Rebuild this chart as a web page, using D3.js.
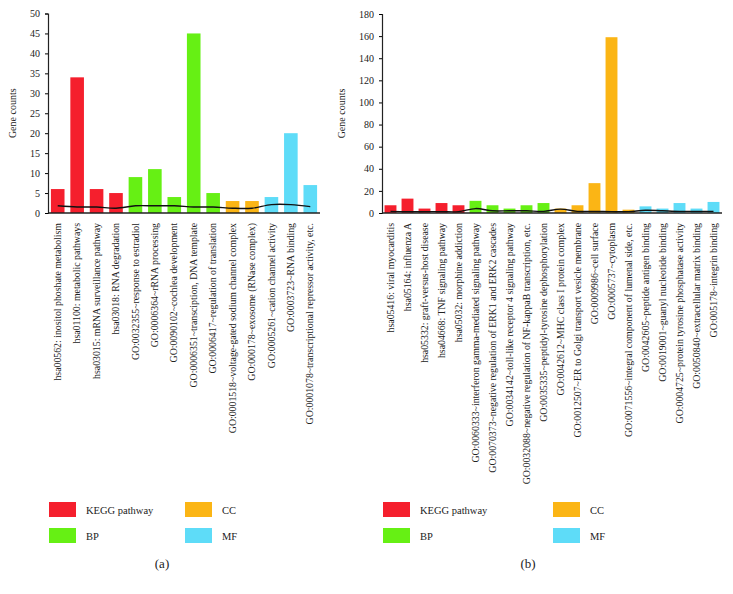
<!DOCTYPE html>
<html><head><meta charset="utf-8">
<script src="https://cdn.jsdelivr.net/npm/d3@7"></script>
<style>body{margin:0;background:#fff}svg{display:block}text{font-family:"Liberation Serif","Times New Roman",serif;fill:#222}</style>
</head><body>
<script>
const groupNames = ["KEGG pathway","BP","CC","MF"];
const groupColors = ["#f51f2d","#66f014","#fbb515","#5edcf8"];

const catsA = ["hsa00562: inositol phoshate metabolism","hsa01100: metabolic pathways","hsa03015: mRNA surveillance pathway","hsa03018: RNA degradation","GO:0032355~response to estradiol","GO:0006364~rRNA processing","GO:0090102~cochlea development","GO:0006351~transciption, DNA template","GO:0006417~regulation of translation","GO:0001518~voltage-gated sodium channel complex","GO:000178~exosome (RNase complex)","GO:0005261~cation channel activity","GO:0003723~RNA binding","GO:0001078~transcriptional repressor activity, etc."];
const groupsA = [0,0,0,0,1,1,1,1,1,2,2,3,3,3];
const valuesA = [6,34,6,5,9,11,4,45,5,3,3,4,20,7];
const lineA = [1.8,1.5,1.5,1.2,1.8,1.8,1.8,1.5,1.5,1.2,1.2,2.1,2.1,1.6];
const ticksA = [0,5,10,15,20,25,30,35,40,45,50];

const catsB = ["hsa05416: viral myocarditis","hsa05164: influenza A","hsa05332: graft-versus-host disease","hsa04668: TNF signaling pathway","hsa05032: morphine addiction","GO:0060333~interferon gamma-mediated signaling pathway","GO:0070373~negative regulation of ERK1 and ERK2 cascades","GO:0034142~toll-like receptor 4 signaling pathway","GO:0032088~negative regulation of NF-kappaB transcription, etc.","GO:0035335~peptidyl-tyrosine dephosphorylation","GO:0042612~MHC class I protein complex","GO:0012507~ER to Golgi transport vesicle membrane","GO:0009986~cell surface","GO:0005737~cytoplasm","GO:0071556~integral component of lumenal side, etc.","GO:0042605~peptide antigen binding","GO:0019001~guanyl nucleotide binding","GO:0004725~protein tyrosine phosphatase activity","GO:0050840~extracellular matrix binding","GO:005178~integrin binding"];
const groupsB = [0,0,0,0,0,1,1,1,1,1,2,2,2,2,2,3,3,3,3,3];
const valuesB = [7,13,4,9,7,11,7,4,7,9,4,7,27,159,3,6,4,9,4,10];
const lineB = [1.5,1.2,1.2,1.2,1.2,4,2,2,2,1.5,3.5,1.5,1.5,1.2,1.2,2.5,2,1.5,1.5,1.5];
const ticksB = [0,20,40,60,80,100,120,140,160,180];

const svg = d3.select("body").append("svg").attr("width",733).attr("height",594);

function panel(o){
  const g = svg.append("g");
  const x = d3.scaleBand().domain(o.cats).range([o.x0,o.x1]).paddingInner(0.3).paddingOuter(0.15);
  const y = d3.scaleLinear().domain([0,o.max]).range([o.y0,o.y1]);
  g.selectAll("rect.bar").data(o.vals).join("rect").attr("class","bar")
    .attr("x",(d,i)=>x(o.cats[i])).attr("width",x.bandwidth())
    .attr("y",d=>y(d)).attr("height",d=>y(0)-y(d))
    .attr("fill",(d,i)=>groupColors[o.groups[i]]);
  const line = d3.line().x((d,i)=>x(o.cats[i])+x.bandwidth()/2).y(d=>y(d)).curve(d3.curveCatmullRom);
  g.append("path").attr("d",line(o.line)).attr("fill","none").attr("stroke","#111").attr("stroke-width",1.4);
  const ya = g.append("g").attr("transform",`translate(${o.x0},0)`)
    .call(d3.axisLeft(y).tickValues(o.ticks).tickSize(3).tickPadding(5));
  ya.select(".domain").attr("stroke","#222").attr("stroke-width",1.2);
  ya.selectAll("text").style("font-size","10px").style("font-family","Liberation Serif");
  const xa = g.append("g").attr("transform",`translate(0,${o.y0})`)
    .call(d3.axisBottom(x).tickSize(0).tickPadding(0));
  xa.select(".domain").attr("stroke","#222").attr("stroke-width",1.4).attr("d",`M${o.x0},0H${o.x1}`);
  xa.selectAll("text").attr("transform","rotate(-90)").attr("text-anchor","end")
    .attr("x",-10).attr("y",0).attr("dy","0.32em")
    .style("font-size","9.8px").style("font-family","Liberation Serif");
  g.append("text").attr("transform",`translate(${o.titleX},${(o.y0+o.y1)/2}) rotate(-90)`)
    .attr("text-anchor","middle").style("font-size","10px").text("Gene counts");
  const lg = g.append("g");
  groupNames.forEach((n,i)=>{
    const lx = o.legX + (i>=2 ? o.legDX : 0);
    const ly = 502 + (i%2)*26;
    lg.append("rect").attr("x",lx).attr("y",ly).attr("width",27).attr("height",15).attr("fill",groupColors[i]);
    lg.append("text").attr("x",lx+37).attr("y",ly+11.5).style("font-size","10.5px").text(n);
  });
  g.append("text").attr("x",o.capX).attr("y",568).attr("text-anchor","middle").style("font-size","13px").text(o.cap);
}

panel({cats:catsA,vals:valuesA,groups:groupsA,line:lineA,ticks:ticksA,max:50,x0:48,x1:320,y0:213,y1:13.5,titleX:16,legX:49,legDX:136,cap:"(a)",capX:162});
panel({cats:catsB,vals:valuesB,groups:groupsB,line:lineB,ticks:ticksB,max:180,x0:382,x1:722,y0:213,y1:14,titleX:345,legX:383,legDX:170,cap:"(b)",capX:528});
</script>
</body></html>
